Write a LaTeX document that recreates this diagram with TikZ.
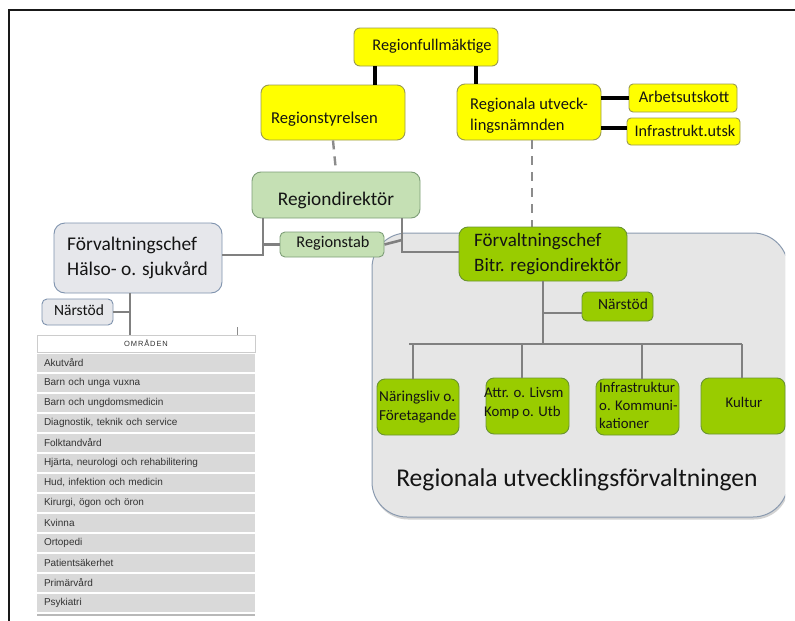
\documentclass[tikz,border=0pt]{standalone}
\usepackage{fontspec}
\setmainfont{Carlito}
\newfontfamily\arialf{Liberation Sans}
\newfontfamily\hdrf[LetterSpace=12]{Liberation Sans}
\usetikzlibrary{shadows}
\definecolor{yel}{HTML}{FFFF00}
\definecolor{ybord}{HTML}{9A9A50}
\definecolor{pgreen}{HTML}{C5E0B4}
\definecolor{pgbord}{HTML}{7E9E78}
\definecolor{bgreen}{HTML}{99CC00}
\definecolor{bgbord}{HTML}{6A9430}
\definecolor{lgrey}{HTML}{E6E7EB}
\definecolor{lgbord}{HTML}{7F93AE}
\definecolor{bigfill}{HTML}{E6E6E6}
\definecolor{bigbord}{HTML}{8B9BB0}
\definecolor{connc}{HTML}{808080}
\definecolor{dashc}{HTML}{8C8C8C}
\definecolor{rowf}{HTML}{D9D9D9}
\definecolor{rowt}{HTML}{333333}
\definecolor{txtc}{HTML}{141414}
\tikzset{
  box/.style={draw, rounded corners=6pt, inner sep=0pt, line width=0.9pt},
  ybox/.style={box, fill=yel, draw=ybord},
  pbox/.style={box, fill=pgreen, draw=pgbord},
  gbox/.style={box, fill=bgreen, draw=bgbord},
  lbox/.style={box, fill=lgrey, draw=lgbord},
  bigbox/.style={draw=bigbord, fill=bigfill, line width=1pt, rounded corners=35pt, inner sep=0pt,
     drop shadow={opacity=0.35, shadow xshift=1pt, shadow yshift=-2.5pt}},
  txt/.style={inner sep=0pt, text=txtc, align=left},
  blk/.style={line width=3.6pt, black},
  conn/.style={line width=2.6pt, connc},
  dashline/.style={line width=2.4pt, dashc, dash pattern=on 9pt off 7pt},
  rowbox/.style={fill=rowf, draw=none, minimum width=218pt, minimum height=17.5pt, inner xsep=7pt, inner ysep=0pt,
     text width=204pt, align=left, font=\arialf\fontsize{10}{12}\selectfont, text=rowt},
}
\begin{document}
\begin{tikzpicture}[x=1pt,y=-1pt]
\useasboundingbox (0,0) rectangle (795,621);
\fill[white] (0,0) rectangle (795,621);
% frame
\draw[line width=2.2pt, black!90] (9,621) -- (9,10) -- (795,10);

% big grey area
\begin{scope}
\clip (355,215) rectangle (785,545);
\node[bigbox, minimum width=416pt, minimum height=284pt] (ruf) at (580,375) {};
\end{scope}
\node[txt, font=\fontsize{25.6}{30}\selectfont] (ruft) at (577,480) {Regionala utvecklingsförvaltningen};

% top boxes
\node[ybox, minimum width=144pt, minimum height=38pt] (rf) at (426,47) {};
\node[txt, font=\fontsize{16.3}{19}\selectfont] (rft) at (432,46) {Regionfullmäktige};
\node[ybox, minimum width=144pt, minimum height=55pt, rounded corners=8pt] (rs) at (333,112.5) {};
\node[txt, anchor=west, font=\fontsize{16.6}{19}\selectfont] (rstt) at (271,119) {Regionstyrelsen};
\node[ybox, minimum width=144pt, minimum height=56pt, rounded corners=8pt] (ru) at (529,112) {};
\node[txt, anchor=west, font=\fontsize{16.5}{21}\selectfont] (rut) at (470,115.5) {Regionala utveck-\\lingsnämnden};
\node[ybox, minimum width=108pt, minimum height=28pt, rounded corners=4pt] (au) at (683,98) {};
\node[txt, font=\fontsize{16.4}{19}\selectfont] (aut) at (684,97) {Arbetsutskott};
\node[ybox, minimum width=113pt, minimum height=27pt, rounded corners=4pt] (iu) at (683.5,131.5) {};
\node[txt, font=\fontsize{16.2}{19}\selectfont] (iut) at (685,131) {Infrastrukt.utsk};

% black connectors
\coordinate (k1) at (375,0);
\coordinate (k2) at (476,0);
\coordinate (k4) at (0,128);
\draw[blk] (rf.south -| k1) -- (rs.north -| k1);
\draw[blk] (rf.south -| k2) -- (ru.north -| k2);
\draw[blk] (ru.east |- au.west) -- (au.west);
\draw[blk] (ru.east |- k4) -- (iu.west |- k4);

% Regiondirektör
\node[pbox, minimum width=168pt, minimum height=46pt, rounded corners=9pt] (rd) at (336,195) {};
\node[txt, font=\fontsize{19.3}{23}\selectfont] (rdt) at (336,200) {Regiondirektör};
\node[pbox, minimum width=104pt, minimum height=25pt, rounded corners=5pt] (rst) at (332,244.5) {};
\node[txt, font=\fontsize{16.3}{19}\selectfont] (rstabt) at (333,243) {Regionstab};

% dashed lines
\coordinate (dd) at (532,0);
\draw[dashline] (rs.south) -- (rd.north);
\draw[dashline] (ru.south -| dd) -- ++(0,87);

% Hälso
\node[lbox, minimum width=168pt, minimum height=70pt, rounded corners=11pt] (hs) at (138,258) {};
\node[txt, anchor=west, font=\fontsize{19.4}{25}\selectfont] (hst) at (67,257.5) {Förvaltningschef\\Hälso- o. sjukvård};
\node[lbox, minimum width=71pt, minimum height=26pt, rounded corners=5pt] (ns1) at (77.5,312) {};
\node[txt, font=\fontsize{15.5}{18}\selectfont] (ns1t) at (79,310) {Närstöd};

% Bitr
\node[gbox, minimum width=168pt, minimum height=54pt, rounded corners=9pt] (bd) at (543,254) {};
\node[txt, anchor=west, font=\fontsize{19}{25}\selectfont] (bdt) at (474,254.5) {Förvaltningschef\\Bitr. regiondirektör};
\node[gbox, minimum width=71pt, minimum height=29pt, rounded corners=5pt] (ns2) at (617.5,306.5) {};
\node[txt, font=\fontsize{15.5}{18}\selectfont] (ns2t) at (623,304) {Närstöd};

% children
\node[gbox, minimum width=82pt, minimum height=56pt, rounded corners=8pt] (c1) at (418,407) {};
\node[txt, anchor=west, font=\fontsize{15.2}{19}\selectfont] (c1t) at (379,407.5) {Näringsliv o.\\Företagande};
\node[gbox, minimum width=83pt, minimum height=56pt, rounded corners=8pt] (c2) at (527.5,406) {};
\node[txt, anchor=west, font=\fontsize{14.8}{19}\selectfont] (c2t) at (484,403.5) {Attr. o. Livsm\\Komp o. Utb};
\node[gbox, minimum width=83pt, minimum height=56pt, rounded corners=8pt] (c3) at (637.5,407) {};
\node[txt, anchor=west, font=\fontsize{14.8}{18}\selectfont] (c3t) at (599,405) {Infrastruktur\\o. Kommuni-\\kationer};
\node[gbox, minimum width=84pt, minimum height=56pt, rounded corners=8pt] (c4) at (743,406) {};
\node[txt, font=\fontsize{14.8}{18}\selectfont] (c4t) at (744,402) {Kultur};

% grey connectors (left)
\coordinate (lj) at (263,255);
\coordinate (rj) at (402,252);
\coordinate (rk) at (402,240);
\draw[conn] (rd.south -| lj) -- (lj) -- (hs.east |- lj);
\draw[conn] (lj |- rst.west) -- (rst.west);
\draw[conn] (rd.south -| rj) -- (rj) -- (bd.west |- rj);
\draw[conn] (rst.east) -- (rk);

% right tree
\coordinate (nsy) at (0,313);
\coordinate (bl) at (409,344);
\coordinate (br) at (742,344);
\coordinate (d1) at (413,344);
\coordinate (d2) at (522,344);
\coordinate (d3) at (642,344);
\draw[conn] (bd.south) -- (bd.south |- bl);
\draw[conn] (bd.south |- nsy) -- (ns2.west |- nsy);
\draw[conn] (bl) -- (br);
\draw[conn] (d1) -- (c1.north -| d1);
\draw[conn] (d2) -- (c2.north -| d2);
\draw[conn] (d3) -- (c3.north -| d3);
\draw[conn] (br) -- (c4.north -| br);

% table
\node[draw=black!20, fill=white, line width=0.6pt, minimum width=218pt, minimum height=17pt, inner sep=0pt,
  font=\hdrf\fontsize{7.5}{9}\selectfont, text=rowt] (hdr) at (146,343.5) {OMRÅDEN};
\coordinate (hv) at (130,0);
\draw[conn] (hs.south -| hv) -- (hdr.north -| hv);
\draw[conn] (ns1.east) -- (ns1.east -| hv);
\coordinate (tk) at (237,327);
\draw[line width=0.8pt, black!45] (tk) -- ++(0,8);
\foreach \t [count=\i from 0] in {{Akutvård},{Barn och unga vuxna},{Barn och ungdomsmedicin},
  {Diagnostik, teknik och service},{Folktandvård},{Hjärta, neurologi och rehabilitering},
  {Hud, infektion och medicin},{Kirurgi, ögon och öron},{Kvinna},{Ortopedi},
  {Patientsäkerhet},{Primärvård},{Psykiatri}}{
  \node[rowbox] (row\i) at (146,{362.75+20*\i}) {\t};
}
\fill[rowf!85!black] (37,613.5) rectangle (255,616);
\end{tikzpicture}
\end{document}
